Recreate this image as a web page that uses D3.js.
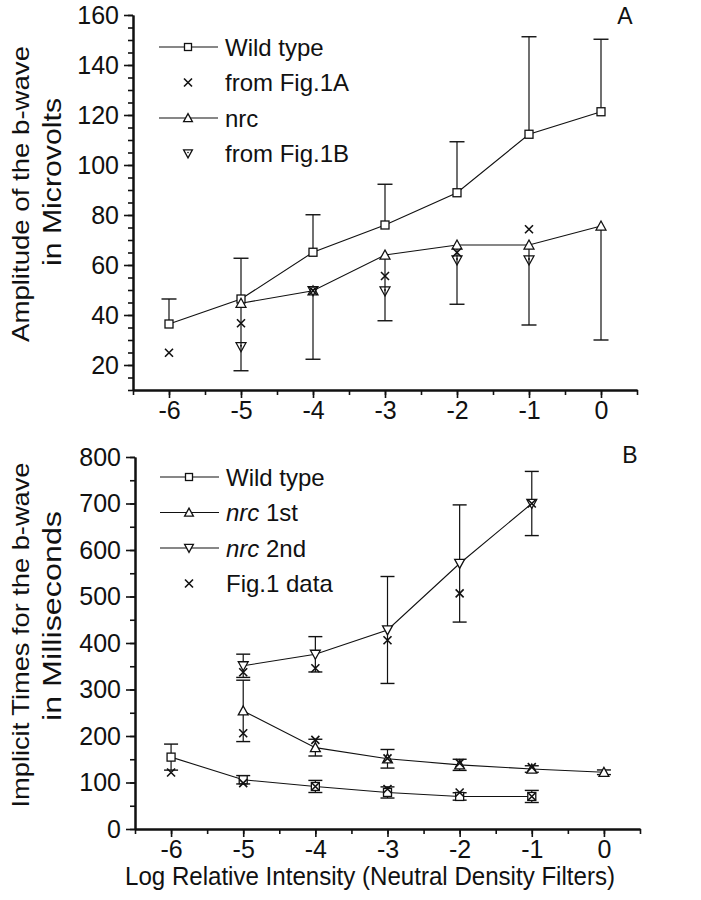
<!DOCTYPE html>
<html>
<head>
<meta charset="utf-8">
<script src="https://cdn.jsdelivr.net/npm/d3@7"></script>
<style>
  body { margin: 0; background: #fff; }
  text { font-family: "Liberation Sans", Arial, Helvetica, sans-serif; fill: #111; }
</style>
</head>
<body>
<svg id="chart" width="701" height="900"></svg>
<script>
// intensity levels (log units)
var levels = [-6, -5, -4, -3, -2, -1, 0];

// panel A : b-wave amplitude (microvolts)
var wildAmp     = [36.4, 46.4, 65.1, 76, 88.9, 112.3, 121.3];
var wildAmpErr  = [10, 16.3, 15, 16.3, 20.4, 39, 29];      // drawn upward only
var nrcAmp      = [null, 44.7, 49.7, 64, 68, 68, 75.6];
var nrcAmpErr   = [null, 27, 27.4, 26.3, 23.7, 32, 45.6];  // drawn downward only
var fig1aAmp    = [24.9, 36.7, 49.7, 55.6, 65, 74.3, null];
var fig1bAmp    = [null, 27.3, 49.7, 49.6, 62, 62, null];

// panel B : implicit times (ms)
var wildTime    = [154.6, 105.9, 91.5, 78.6, 70, 70, null];
var wildTimeErr = [28, 9, 13, 12, 8, 13, null];
var nrc1Time    = [null, 254, 175, 151, 138, 129, 122];
var nrc1Err     = [null, 66, 18, 20, 12, 7, 5];
var nrc2Time    = [null, 351, 375.7, 428, 571, 700, null];
var nrc2Err     = [null, 25, 38, 115, 126, 69, null];
var fig1Level   = [-6, -5, -5, -5, -4, -4, -4, -3, -3, -3, -2, -2, -2, -1, -1, -1];
var fig1Time    = [121.5, 337, 206, 98.7, 345.6, 191.7, 91.5, 406, 152, 86, 506.6, 141.7, 78.6, 700, 133, 70];

// axis ticks
var ampTicks  = [20, 40, 60, 80, 100, 120, 140, 160];
var timeTicks = [0, 100, 200, 300, 400, 500, 600, 700, 800];

var svg = d3.select("#chart");
var ink = "#111";

var xA = d3.scaleLinear().domain([-6.5, 0.5]).range([133, 637]);
var yA = d3.scaleLinear().domain([10, 160]).range([390, 15]);
var xB = d3.scaleLinear().domain([-6.5, 0.5]).range([135, 640]);
var yB = d3.scaleLinear().domain([0, 800]).range([829, 457]);

// ---- marker helpers ----
function square(g, cx, cy, s, fill) {
    g.append("rect").attr("x", cx - s / 2).attr("y", cy - s / 2)
        .attr("width", s).attr("height", s)
        .attr("fill", fill).attr("stroke", ink).attr("stroke-width", 1.3);
}
function triangle(g, cx, cy, s, up, fill) {
    var h = s * 1.0, w = s * 0.55, d = up ? 1 : -1;
    var pts = [[cx, cy - d * h * 0.55], [cx + w, cy + d * h * 0.45], [cx - w, cy + d * h * 0.45]];
    g.append("path").attr("d", "M" + pts.join("L") + "Z")
        .attr("fill", fill).attr("stroke", ink).attr("stroke-width", 1.3);
}
function cross(g, cx, cy, s) {
    var r = s / 2;
    g.append("path")
        .attr("d", "M" + (cx - r) + "," + (cy - r) + "L" + (cx + r) + "," + (cy + r) +
                   "M" + (cx - r) + "," + (cy + r) + "L" + (cx + r) + "," + (cy - r))
        .attr("stroke", ink).attr("stroke-width", 1.6).attr("fill", "none");
}
function dotTriangle(g, cx, cy, s) {
    triangle(g, cx, cy, s, false, "none");
    g.append("circle").attr("cx", cx).attr("cy", cy - 1).attr("r", 0.9).attr("fill", ink);
}

function errBar(g, x, y, lv, v, e, dir, cap) {
    if (v == null || e == null) return;
    var top = dir >= 0 ? v + e : v;
    var bot = dir <= 0 ? v - e : v;
    var px = x(lv);
    g.append("line").attr("x1", px).attr("x2", px).attr("y1", y(top)).attr("y2", y(bot))
        .attr("stroke", ink).attr("stroke-width", 1.2);
    if (dir >= 0) g.append("line").attr("x1", px - cap).attr("x2", px + cap)
        .attr("y1", y(top)).attr("y2", y(top)).attr("stroke", ink).attr("stroke-width", 1.4);
    if (dir <= 0) g.append("line").attr("x1", px - cap).attr("x2", px + cap)
        .attr("y1", y(bot)).attr("y2", y(bot)).attr("stroke", ink).attr("stroke-width", 1.4);
}

function series(g, x, y, vals) {
    var line = d3.line()
        .defined(function(d) { return d != null; })
        .x(function(d, i) { return x(levels[i]); })
        .y(function(d) { return y(d); });
    g.append("path").datum(vals).attr("d", line)
        .attr("fill", "none").attr("stroke", ink).attr("stroke-width", 1.1);
}

function axes(x, y, yMajor, yMinorStep, yLo, yHi) {
    var g = svg.append("g");
    var base = y.range()[0];
    var left = x.range()[0];
    g.append("g").attr("transform", "translate(0," + base + ")")
        .call(d3.axisBottom(x).tickValues(d3.range(-6.5, 0.51, 0.5)).tickSize(5).tickSizeOuter(0).tickFormat(""));
    var xt = g.append("g").attr("transform", "translate(0," + base + ")")
        .call(d3.axisBottom(x).tickValues(levels).tickSize(8).tickSizeOuter(0).tickPadding(3)
            .tickFormat(function(d) { return d === 0 ? "0" : String(d); }));
    g.append("g").attr("transform", "translate(" + left + ",0)")
        .call(d3.axisLeft(y).tickValues(d3.range(yLo, yHi + 0.1, yMinorStep)).tickSize(5).tickSizeOuter(0).tickFormat(""));
    var yt = g.append("g").attr("transform", "translate(" + left + ",0)")
        .call(d3.axisLeft(y).tickValues(yMajor).tickSize(9).tickSizeOuter(0).tickPadding(5));
    g.selectAll(".domain").attr("stroke", ink).attr("stroke-width", 2);
    g.selectAll(".tick line").attr("stroke", ink).attr("stroke-width", 1.6);
    g.selectAll(".tick text").attr("fill", ink)
        .attr("font-family", "Liberation Sans, Arial, sans-serif");
    xt.selectAll(".tick text").attr("font-size", 25);
    yt.selectAll(".tick text").attr("font-size", 25);
    g.selectAll("g").attr("font-family", null).attr("font-size", null);
    return g;
}

function legend(g, rows, x0, y0, step) {
    rows.forEach(function(r, i) {
        var cy = y0 + i * step;
        var mx = x0 + 29;
        if (r.line) g.append("line").attr("x1", x0).attr("x2", x0 + 59).attr("y1", cy).attr("y2", cy)
            .attr("stroke", ink).attr("stroke-width", 1.1);
        if (r.mark === "square") square(g, mx, cy, 7, "#fff");
        if (r.mark === "up") triangle(g, mx, cy, 8, true, "#fff");
        if (r.mark === "down") triangle(g, mx, cy, 8, false, "#fff");
        if (r.mark === "dotdown") { triangle(g, mx, cy, 8, false, "#fff"); g.append("circle").attr("cx", mx).attr("cy", cy - 1).attr("r", 0.8).attr("fill", ink); }
        if (r.mark === "cross") cross(g, mx, cy, 8);
        var t = g.append("text").attr("x", x0 + 66).attr("y", cy).attr("dy", "0.36em").attr("font-size", 24);
        if (r.italic) {
            t.append("tspan").attr("font-style", "italic").text(r.italic);
            t.append("tspan").text(r.label);
        } else t.text(r.label);
    });
}

// ================= Panel A =================
var gA = svg.append("g");
axes(xA, yA, ampTicks, 5, 10, 160);

series(gA, xA, yA, wildAmp);
series(gA, xA, yA, nrcAmp);
levels.forEach(function(lv, i) {
    errBar(gA, xA, yA, lv, wildAmp[i], wildAmpErr[i], 1, 7.5);
    errBar(gA, xA, yA, lv, nrcAmp[i], nrcAmpErr[i], -1, 7.5);
});
levels.forEach(function(lv, i) {
    if (wildAmp[i] != null) square(gA, xA(lv), yA(wildAmp[i]), 8, "#fff");
    if (nrcAmp[i] != null) triangle(gA, xA(lv), yA(nrcAmp[i]), 9, true, "#fff");
});
levels.forEach(function(lv, i) {
    if (fig1bAmp[i] != null) dotTriangle(gA, xA(lv), yA(fig1bAmp[i]), 9);
    if (fig1aAmp[i] != null) cross(gA, xA(lv), yA(fig1aAmp[i]), 8);
});

legend(gA, [
    {mark: "square", line: true, label: "Wild type"},
    {mark: "cross", line: false, label: "from Fig.1A"},
    {mark: "up", line: true, label: "nrc"},
    {mark: "dotdown", line: false, label: "from Fig.1B"}
], 159, 47, 35.5);

gA.append("text").attr("x", 625).attr("y", 24).attr("text-anchor", "middle").attr("font-size", 23).text("A");

gA.append("text").attr("transform", "translate(29,194) rotate(-90)").attr("text-anchor", "middle")
    .attr("font-size", 24).attr("textLength", 296).attr("lengthAdjust", "spacingAndGlyphs")
    .text("Amplitude of the b-wave");
gA.append("text").attr("transform", "translate(61,182) rotate(-90)").attr("text-anchor", "middle")
    .attr("font-size", 25).attr("textLength", 168).attr("lengthAdjust", "spacingAndGlyphs")
    .text("in Microvolts");

// ================= Panel B =================
var gB = svg.append("g");
axes(xB, yB, timeTicks, 50, 0, 800);

series(gB, xB, yB, wildTime);
series(gB, xB, yB, nrc1Time);
series(gB, xB, yB, nrc2Time);
levels.forEach(function(lv, i) {
    errBar(gB, xB, yB, lv, wildTime[i], wildTimeErr[i], 0, 7);
    errBar(gB, xB, yB, lv, nrc1Time[i], nrc1Err[i], 0, 7);
    errBar(gB, xB, yB, lv, nrc2Time[i], nrc2Err[i], 0, 7);
});
levels.forEach(function(lv, i) {
    if (wildTime[i] != null) square(gB, xB(lv), yB(wildTime[i]), 8, "#fff");
    if (nrc1Time[i] != null) triangle(gB, xB(lv), yB(nrc1Time[i]), 9, true, "#fff");
    if (nrc2Time[i] != null) triangle(gB, xB(lv), yB(nrc2Time[i]), 9, false, "#fff");
});
fig1Level.forEach(function(lv, i) {
    cross(gB, xB(lv), yB(fig1Time[i]), 8);
});

legend(gB, [
    {mark: "square", line: true, label: "Wild type"},
    {mark: "up", line: true, italic: "nrc", label: " 1st"},
    {mark: "down", line: true, italic: "nrc", label: " 2nd"},
    {mark: "cross", line: false, label: "Fig.1 data"}
], 160, 477, 35.5);

gB.append("text").attr("x", 630).attr("y", 463).attr("text-anchor", "middle").attr("font-size", 23).text("B");

gB.append("text").attr("transform", "translate(29,635) rotate(-90)").attr("text-anchor", "middle")
    .attr("font-size", 24).attr("textLength", 345).attr("lengthAdjust", "spacingAndGlyphs")
    .text("Implicit Times for the b-wave");
gB.append("text").attr("transform", "translate(61,616) rotate(-90)").attr("text-anchor", "middle")
    .attr("font-size", 25).attr("textLength", 210).attr("lengthAdjust", "spacingAndGlyphs")
    .text("in Milliseconds");

gB.append("text").attr("x", 370).attr("y", 885).attr("text-anchor", "middle")
    .attr("font-size", 25).attr("textLength", 490).attr("lengthAdjust", "spacingAndGlyphs")
    .text("Log Relative Intensity (Neutral Density Filters)");
</script>
</body>
</html>
